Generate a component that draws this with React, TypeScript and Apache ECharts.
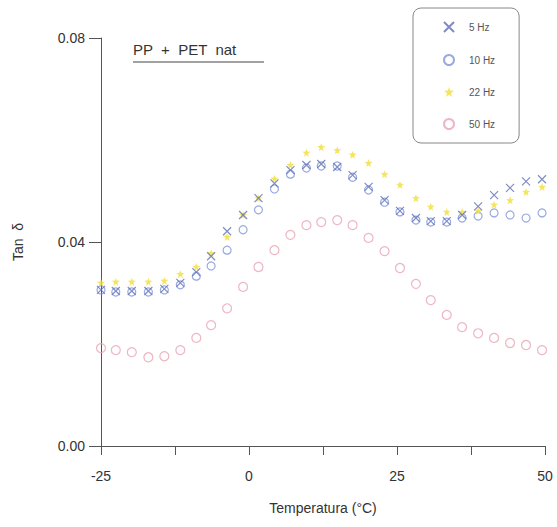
import React, { useEffect, useRef } from "react";
import * as echarts from "echarts";

const temperatures = [-25, -22.5, -19.8, -17.0, -14.3, -11.6, -8.9, -6.4, -3.7, -1.0, 1.6, 4.3, 7.0, 9.7, 12.2, 14.9, 17.5, 20.2, 22.9, 25.5, 28.2, 30.7, 33.4, 36.0, 38.7, 41.4, 44.1, 46.8, 49.5];

const tan5Hz = [0.0306, 0.0304, 0.0304, 0.0304, 0.0308, 0.032, 0.0341, 0.0372, 0.0421, 0.0453, 0.0486, 0.0515, 0.0541, 0.0551, 0.0553, 0.0547, 0.0531, 0.0508, 0.0482, 0.0461, 0.0447, 0.0441, 0.0441, 0.0453, 0.047, 0.0492, 0.0506, 0.0519, 0.0523];
const tan10Hz = [0.0306, 0.0302, 0.0302, 0.0302, 0.0306, 0.0316, 0.0333, 0.0353, 0.0384, 0.0424, 0.0463, 0.0504, 0.0533, 0.0545, 0.0549, 0.0549, 0.0527, 0.0502, 0.0478, 0.0459, 0.0443, 0.0439, 0.0439, 0.0447, 0.0451, 0.0457, 0.0453, 0.0447, 0.0457];
const tan22Hz = [0.032, 0.0322, 0.0322, 0.0322, 0.0324, 0.0337, 0.0351, 0.0378, 0.041, 0.0453, 0.0486, 0.0524, 0.0551, 0.0575, 0.0586, 0.058, 0.0571, 0.0555, 0.0533, 0.0512, 0.0486, 0.0469, 0.0459, 0.0459, 0.0461, 0.0473, 0.0482, 0.0498, 0.0508];
const tan50Hz = [0.0192, 0.0188, 0.0184, 0.0174, 0.0176, 0.0188, 0.0212, 0.0237, 0.027, 0.0312, 0.0351, 0.0384, 0.0414, 0.0433, 0.0439, 0.0443, 0.0433, 0.0408, 0.0382, 0.0349, 0.0318, 0.0286, 0.0257, 0.0233, 0.0221, 0.0212, 0.0202, 0.0198, 0.0188];

const seriesNames = ["5 Hz", "10 Hz", "22 Hz", "50 Hz"];
const xTickLabels = ["-25", "0", "25", "50"];
const yTickLabels = ["0.00", "0.04", "0.08"];

const FONT = "Liberation Sans";
const X_PATH = "path://M0 0L10 10M10 0L0 10";
const STAR_PATH = "path://M5 0L6.2 3.4L10 3.8L7 6.2L8 10L5 7.8L2 10L3 6.2L0 3.8L3.8 3.4Z";

function pairs(vals: number[]) {
  return temperatures.map((t, i) => [t, vals[i]]);
}

export default function App() {
  const ref = useRef<HTMLDivElement>(null);
  useEffect(() => {
    if (!ref.current) return;
    const chart = echarts.init(ref.current, null, { renderer: "svg" });
    chart.setOption({
      animation: false,
      backgroundColor: "#ffffff",
      grid: { left: 101, right: 12, top: 38, bottom: 81 },
      xAxis: {
        type: "value",
        min: -25,
        max: 50,
        interval: 12.5,
        splitLine: { show: false },
        axisLine: { onZero: false, lineStyle: { color: "#555", width: 1 } },
        axisTick: { show: true, length: 9, lineStyle: { color: "#555" } },
        axisLabel: {
          fontFamily: FONT,
          fontSize: 14,
          color: "#333",
          margin: 23,
          formatter: (v: number) => {
            const s = String(Math.round(v));
            return xTickLabels.includes(s) && Math.abs(v % 25) < 1e-6 ? s : "";
          },
        },
        name: "Temperatura (°C)",
        nameLocation: "middle",
        nameGap: 55,
        nameTextStyle: { fontFamily: FONT, fontSize: 14, color: "#333" },
      },
      yAxis: {
        type: "value",
        min: 0,
        max: 0.08,
        interval: 0.04,
        splitLine: { show: false },
        axisLine: { onZero: false, lineStyle: { color: "#555", width: 1 } },
        axisTick: { show: true, length: 12, lineStyle: { color: "#555" } },
        axisLabel: {
          fontFamily: FONT,
          fontSize: 14,
          color: "#333",
          margin: 16,
          formatter: (v: number) => yTickLabels[Math.round(v / 0.04)] ?? "",
        },
        name: "Tan  δ",
        nameLocation: "middle",
        nameGap: 76,
        nameRotate: 90,
        nameTextStyle: { fontFamily: FONT, fontSize: 14, color: "#333" },
      },
      legend: {
        orient: "vertical",
        left: 413,
        top: 8,
        padding: [13, 24, 13, 30],
        itemGap: 21,
        itemWidth: 10,
        itemHeight: 10,
        borderColor: "#888",
        borderWidth: 1,
        borderRadius: 8,
        textStyle: { fontFamily: FONT, fontSize: 10, color: "#555", padding: [0, 0, 0, 10] },
        data: seriesNames,
      },
      graphic: [
        {
          type: "text",
          left: 133,
          top: 42,
          style: { text: "PP  +  PET  nat", fontFamily: FONT, fontSize: 15, fill: "#333" },
        },
        {
          type: "line",
          shape: { x1: 133, y1: 62, x2: 264, y2: 62 },
          style: { stroke: "#444", lineWidth: 1 },
        },
      ],
      series: [
        {
          name: seriesNames[1],
          type: "scatter",
          symbol: "circle",
          symbolSize: 8,
          itemStyle: { color: "transparent", borderColor: "#7f95dc", borderWidth: 1.2 },
          data: pairs(tan10Hz),
        },
        {
          name: seriesNames[2],
          type: "scatter",
          symbol: STAR_PATH,
          symbolSize: 8,
          itemStyle: { color: "#f0de3c", borderWidth: 0 },
          data: pairs(tan22Hz),
        },
        {
          name: seriesNames[0],
          type: "scatter",
          symbol: X_PATH,
          symbolSize: 8,
          itemStyle: { color: "transparent", borderColor: "#5f6fb5", borderWidth: 1.2 },
          data: pairs(tan5Hz),
        },
        {
          name: seriesNames[3],
          type: "scatter",
          symbol: "circle",
          symbolSize: 9,
          itemStyle: { color: "transparent", borderColor: "#e8a4b4", borderWidth: 1.2 },
          data: pairs(tan50Hz),
        },
      ],
    });
    return () => chart.dispose();
  }, []);
  return (
    <div
      ref={ref}
      style={{ position: "absolute", left: 0, top: 0, width: 557, height: 527 }}
    />
  );
}
